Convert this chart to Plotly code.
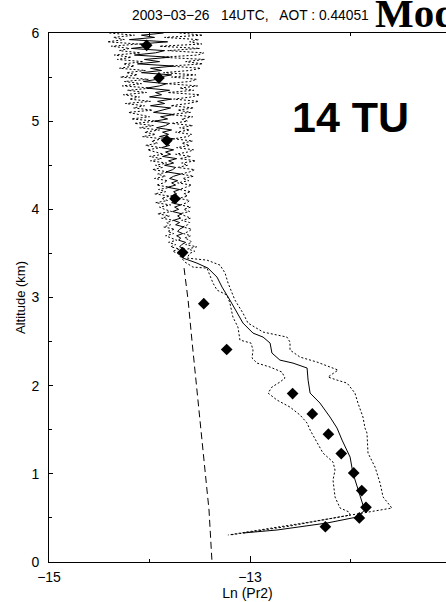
import plotly.graph_objects as go

# ---------------- data ----------------
# Upper (noisy) part of the lidar profile, common altitude grid (km)
alt_upper = [3.500, 3.525, 3.550, 3.575, 3.600, 3.625, 3.650, 3.675, 3.700, 3.725,
             3.750, 3.775, 3.800, 3.825, 3.850, 3.875, 3.900, 3.925, 3.950, 3.975,
             4.000, 4.025, 4.050, 4.075, 4.100, 4.125, 4.150, 4.175, 4.200, 4.225,
             4.250, 4.275, 4.300, 4.325, 4.350, 4.375, 4.400, 4.425, 4.450, 4.475,
             4.500, 4.525, 4.550, 4.575, 4.600, 4.625, 4.650, 4.675, 4.700, 4.725,
             4.750, 4.775, 4.800, 4.825, 4.850, 4.875, 4.900, 4.925, 4.950, 4.975,
             5.000, 5.025, 5.050, 5.075, 5.100, 5.125, 5.150, 5.175, 5.200, 5.225,
             5.250, 5.275, 5.300, 5.325, 5.350, 5.375, 5.400, 5.425, 5.450, 5.475,
             5.500, 5.525, 5.550, 5.575, 5.600, 5.625, 5.650, 5.675, 5.700, 5.725,
             5.750, 5.775, 5.800, 5.825, 5.850, 5.875, 5.900, 5.925, 5.950, 5.975,
             6.000]

# measured Ln(Pr2)
pr2_upper = [-13.670, -13.690, -13.650, -13.700, -13.680, -13.640, -13.710, -13.690, -13.730, -13.670,
             -13.720, -13.700, -13.660, -13.740, -13.700, -13.760, -13.690, -13.720, -13.680, -13.770,
             -13.710, -13.750, -13.690, -13.780, -13.745, -13.700, -13.790, -13.730, -13.760, -13.700,
             -13.820, -13.740, -13.780, -13.720, -13.800, -13.760, -13.690, -13.830, -13.770, -13.740,
             -13.850, -13.760, -13.810, -13.730, -13.870, -13.790, -13.840, -13.760, -13.880, -13.800,
             -13.850, -13.830, -13.760, -13.900, -13.810, -13.870, -13.780, -13.930, -13.840, -13.800,
             -13.950, -13.820, -13.890, -13.760, -13.960, -13.870, -13.790, -13.990, -13.850, -13.920,
             -13.780, -14.000, -13.880, -13.940, -13.800, -14.030, -13.900, -13.830, -14.060, -13.920,
             -13.905, -13.780, -14.080, -13.880, -13.990, -13.760, -14.120, -13.900, -14.050, -13.800,
             -14.150, -13.940, -13.850, -14.180, -13.990, -14.100, -13.820, -14.200, -13.950, -14.080,
             -13.860]

# lower error bound
pr2_low_upper = [-13.720, -13.770, -13.700, -13.790, -13.740, -13.810, -13.730, -13.780, -13.840, -13.760,
                 -13.820, -13.750, -13.860, -13.790, -13.830, -13.760, -13.880, -13.800, -13.920, -13.780,
                 -13.850, -13.900, -13.790, -13.940, -13.820, -13.880, -13.800, -13.950, -13.840, -13.910,
                 -13.790, -13.930, -13.860, -13.820, -13.950, -13.840, -13.920, -13.810, -13.970, -13.870,
                 -13.940, -13.830, -13.990, -13.880, -14.000, -13.860, -13.950, -14.020, -13.890, -14.040,
                 -13.920, -13.980, -13.870, -14.070, -13.940, -14.050, -13.900, -14.100, -13.960, -14.150,
                 -13.930, -14.180, -14.000, -14.120, -14.210, -13.970, -14.160, -14.050, -14.240, -13.990,
                 -14.200, -14.100, -14.260, -14.030, -14.220, -13.980, -14.270, -14.080, -14.250, -14.010,
                 -14.290, -14.120, -14.230, -14.040, -14.300, -14.150, -14.260, -14.060, -14.320, -14.180,
                 -14.350, -14.090, -14.300, -14.200, -14.380, -14.110, -14.420, -14.250, -14.360, -14.150,
                 -14.400]

# upper error bound
pr2_high_upper = [-13.600, -13.550, -13.620, -13.530, -13.640, -13.580, -13.600, -13.650, -13.590, -13.660,
                  -13.610, -13.580, -13.670, -13.620, -13.600, -13.680, -13.590, -13.650, -13.700, -13.600,
                  -13.660, -13.590, -13.690, -13.630, -13.600, -13.710, -13.620, -13.660, -13.590, -13.700,
                  -13.640, -13.580, -13.720, -13.610, -13.670, -13.560, -13.690, -13.600, -13.550, -13.720,
                  -13.620, -13.680, -13.540, -13.700, -13.590, -13.740, -13.620, -13.560, -13.730, -13.600,
                  -13.680, -13.570, -13.760, -13.620, -13.580, -13.740, -13.600, -13.700, -13.570, -13.780,
                  -13.620, -13.680, -13.570, -13.800, -13.590, -13.720, -13.560, -13.790, -13.620, -13.510,
                  -13.760, -13.580, -13.500, -13.820, -13.560, -13.700, -13.520, -13.830, -13.600, -13.530,
                  -13.780, -13.540, -13.860, -13.600, -13.490, -13.800, -13.470, -13.640, -13.450, -13.880,
                  -13.520, -13.460, -13.820, -13.500, -13.900, -13.480, -13.600, -13.510, -13.850, -13.470,
                  -13.700]

# Lower (smooth) part of the measured profile
alt_lower = [3.447, 3.390, 3.333, 3.231, 3.118, 2.971, 2.823, 2.710, 2.596, 2.551,
             2.483, 2.370, 2.290, 2.256, 2.200, 2.063, 1.916, 1.803, 1.644, 1.519,
             1.383, 1.190, 1.009, 0.816, 0.646, 0.590, 0.510, 0.442, 0.363, 0.329]
pr2_lower = [-13.666, -13.528, -13.418, -13.328, -13.278, -13.200, -13.130, -13.070, -12.970, -12.870,
             -12.800, -12.782, -12.702, -12.572, -12.432, -12.422, -12.402, -12.304, -12.204, -12.134,
             -12.084, -12.004, -11.976, -11.926, -11.876, -11.856, -11.936, -12.234, -12.732, -13.070]

# Lower bound (left dotted curve)
alt_low_lower = [3.401, 3.345, 3.333, 3.163, 3.084, 3.027, 2.937, 2.778, 2.664, 2.517,
                 2.483, 2.404, 2.313, 2.256, 2.211, 2.154, 2.086, 2.041, 1.984, 1.916,
                 1.837, 1.757, 1.667, 1.576, 1.497, 1.349, 1.236, 1.134, 1.043, 0.930,
                 0.737, 0.612, 0.567, 0.533, 0.408, 0.306]
pr2_low_lower = [-13.646, -13.568, -13.428, -13.368, -13.328, -13.228, -13.200, -13.170, -13.120, -13.100,
                 -12.990, -12.970, -12.980, -12.930, -12.800, -12.682, -12.652, -12.702, -12.782, -12.820,
                 -12.732, -12.602, -12.502, -12.432, -12.402, -12.334, -12.274, -12.174, -12.154, -12.174,
                 -12.154, -12.104, -12.014, -12.004, -12.602, -13.200]

# Upper bound (right dotted curve)
alt_high_lower = [3.447, 3.424, 3.367, 3.277, 3.163, 2.971, 2.823, 2.710, 2.608, 2.551,
                  2.494, 2.404, 2.324, 2.268, 2.177, 2.098, 2.063, 2.029, 1.916, 1.803,
                  1.644, 1.519, 1.463, 1.236, 1.077, 0.896, 0.737, 0.612, 0.454, 0.306]
pr2_high_lower = [-13.626, -13.428, -13.298, -13.248, -13.218, -13.150, -13.070, -13.020, -12.870, -12.632,
                  -12.602, -12.602, -12.502, -12.334, -12.124, -12.224, -12.134, -12.034, -11.956, -11.926,
                  -11.876, -11.856, -11.836, -11.826, -11.756, -11.706, -11.676, -11.588, -12.402, -13.220]

# Molecular (Rayleigh) signal
alt_mol = [3.333, 2.971, 2.517, 1.837, 1.009, 0.590, 0.0]
pr2_mol = [-13.656, -13.616, -13.578, -13.518, -13.448, -13.408, -13.378]

# Model points
alt_model = [5.86, 5.49, 4.78, 4.12, 3.51, 2.93, 2.41, 1.91, 1.68, 1.45, 1.23, 1.01, 0.81, 0.62, 0.50, 0.40]
pr2_model = [-14.028, -13.906, -13.828, -13.746, -13.670, -13.460, -13.232, -12.576, -12.380, -12.220,
             -12.092, -11.968, -11.888, -11.846, -11.912, -12.250]

x_range = [-15, -11.0498]
x_tickvals = [-15, -13]
y_tickvals = [0, 1, 2, 3, 4, 5, 6]

FONT = "Liberation Sans, Arial, Helvetica, sans-serif"

fig = go.Figure()

# lower bound (dotted)
fig.add_trace(go.Scatter(
    x=pr2_low_upper[::-1] + pr2_low_lower, y=alt_upper[::-1] + alt_low_lower,
    mode="lines", line=dict(color="black", width=1, dash="2px,2px"),
    hoverinfo="skip", showlegend=False))
# upper bound (dotted)
fig.add_trace(go.Scatter(
    x=pr2_high_upper[::-1] + pr2_high_lower, y=alt_upper[::-1] + alt_high_lower,
    mode="lines", line=dict(color="black", width=1, dash="2px,2px"),
    hoverinfo="skip", showlegend=False))
# measured profile (solid)
fig.add_trace(go.Scatter(
    x=pr2_upper[::-1] + pr2_lower, y=alt_upper[::-1] + alt_lower,
    mode="lines", line=dict(color="black", width=1),
    hoverinfo="skip", showlegend=False))
# molecular profile (dashed)
fig.add_trace(go.Scatter(
    x=pr2_mol, y=alt_mol,
    mode="lines", line=dict(color="black", width=1, dash="7px,4px"),
    hoverinfo="skip", showlegend=False))
# model points
fig.add_trace(go.Scatter(
    x=pr2_model, y=alt_model, mode="markers",
    marker=dict(symbol="diamond", size=9, color="black"),
    hoverinfo="skip", showlegend=False))

fig.update_layout(
    width=446, height=602,
    margin=dict(l=49, r=0, t=33, b=40),
    paper_bgcolor="white", plot_bgcolor="white",
    font=dict(family=FONT, color="black", size=13),
    showlegend=False,
    xaxis=dict(
        range=x_range, tickvals=x_tickvals, ticktext=["\u221215", "\u221213"],
        ticks="inside", ticklen=6, tickwidth=1, tickcolor="black",
        minor=dict(dtick=1, tick0=-15, ticks="inside", ticklen=3, tickcolor="black"),
        showline=True, linecolor="black", linewidth=1, mirror="ticks",
        showgrid=False, zeroline=False,
        tickfont=dict(size=14), ticklabelstandoff=2,
        title=dict(text="Ln (Pr2)", font=dict(size=14), standoff=4),
    ),
    yaxis=dict(
        range=[0, 6], tickvals=y_tickvals,
        ticks="inside", ticklen=4, tickwidth=1, tickcolor="black",
        minor=dict(dtick=0.5, tick0=0, ticks="inside", ticklen=3, tickcolor="black"),
        showline=True, linecolor="black", linewidth=1, mirror=False,
        showgrid=False, zeroline=False,
        tickfont=dict(size=14), ticklabelstandoff=6,
        title=dict(text="Altitude (km)", font=dict(size=13), standoff=2),
    ),
    annotations=[
        dict(text="2003\u221203\u221226   14UTC,   AOT : 0.44051", xref="paper", yref="paper",
             x=(250 - 49) / 397, y=1, yshift=18, showarrow=False,
             xanchor="center", yanchor="middle", font=dict(size=13.8, family=FONT)),
        dict(text="<b>Mod</b>", xref="paper", yref="paper",
             x=(373 - 49) / 397, y=1, yshift=20, showarrow=False,
             xanchor="left", yanchor="middle",
             font=dict(size=41, family="Liberation Serif, Times New Roman, serif")),
        dict(text="<b>14 TU</b>", xref="x", yref="y", x=-12.005, y=5.05,
             showarrow=False, xanchor="center", yanchor="middle",
             font=dict(size=43, family=FONT)),
        dict(text="\u221211", xref="x", yref="paper", x=-11, y=0, yshift=-14,
             showarrow=False, xanchor="center", yanchor="middle",
             font=dict(size=14, family=FONT)),
    ],
)

fig.write_html("out.html")
